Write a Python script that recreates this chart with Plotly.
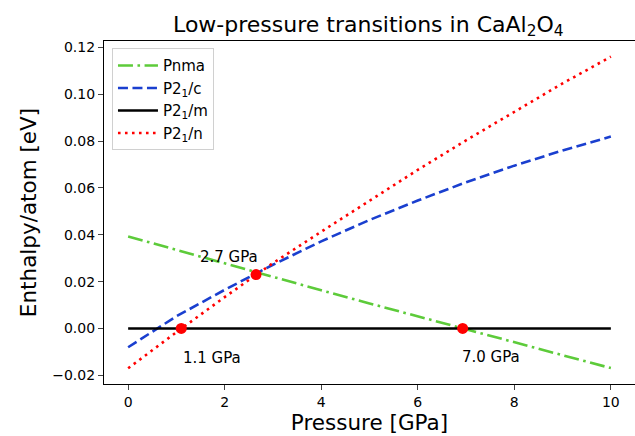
import plotly.graph_objects as go

pressure = [0, 1, 2, 3, 4, 5, 6, 7, 8, 9, 10]
pnma = [0.0393, 0.0335, 0.0277, 0.0220, 0.0163, 0.0107, 0.0051, -0.0004, -0.0059, -0.0114, -0.0169]
p21c = [-0.0080, 0.0052, 0.0165, 0.0272, 0.0372, 0.0463, 0.0546, 0.0624, 0.0695, 0.0760, 0.0819]
p21m = [0, 0, 0, 0, 0, 0, 0, 0, 0, 0, 0]
p21n = [-0.0170, -0.0016, 0.0134, 0.0279, 0.0413, 0.0545, 0.0677, 0.0803, 0.0926, 0.1046, 0.1160]

trans_p = [1.1, 2.65, 6.93]
trans_h = [0.0, 0.0230, 0.0]
trans_labels = ["1.1 GPa", "2.7 GPa", "7.0 GPa"]
label_x = [1.74, 2.08, 7.52]
label_y = [-0.0124, 0.0303, -0.0122]

font = "DejaVu Sans, Liberation Sans, sans-serif"

fig = go.Figure()
fig.add_trace(go.Scatter(x=pressure, y=pnma, mode="lines", name="Pnma",
                         line=dict(color="#5dcb3a", width=2.6, dash="15px,4.5px,2.6px,4.5px")))
fig.add_trace(go.Scatter(x=pressure, y=p21c, mode="lines", name="P2<sub>1</sub>/c",
                         line=dict(color="#1a3fcf", width=2.6, dash="10px,4.5px")))
fig.add_trace(go.Scatter(x=pressure, y=p21m, mode="lines", name="P2<sub>1</sub>/m",
                         line=dict(color="black", width=2.6)))
fig.add_trace(go.Scatter(x=pressure, y=p21n, mode="lines", name="P2<sub>1</sub>/n",
                         line=dict(color="red", width=2.6, dash="2.6px,4.4px")))
fig.add_trace(go.Scatter(x=trans_p, y=trans_h, mode="markers", showlegend=False,
                         marker=dict(color="red", size=11)))

for tx, ty, t in zip(label_x, label_y, trans_labels):
    fig.add_annotation(x=tx, y=ty, text=t, showarrow=False,
                       font=dict(size=15, color="black", family=font))

fig.update_layout(
    width=635, height=436,
    margin=dict(l=104, r=0, t=41, b=52, autoexpand=False),
    paper_bgcolor="white", plot_bgcolor="white",
    font=dict(family=font, color="black"),
    title=dict(text="Low-pressure transitions in CaAl<sub>2</sub>O<sub>4</sub>",
               x=0.58, xanchor="center", y=0.945, yanchor="middle",
               font=dict(size=22)),
    legend=dict(x=0.015, y=0.979, xanchor="left", yanchor="top",
                bgcolor="rgba(255,255,255,0.8)", bordercolor="#d0d0d0", borderwidth=1,
                font=dict(size=15), tracegroupgap=0, itemwidth=40),
)
fig.update_xaxes(range=[-0.5, 10.5], tickvals=[0, 2, 4, 6, 8, 10],
                 showgrid=False, zeroline=False, showline=True, mirror=True,
                 linecolor="black", linewidth=1.2, ticks="outside", ticklen=5,
                 tickwidth=1.1, tickfont=dict(size=14), automargin=False,
                 title=dict(text="Pressure [GPa]", font=dict(size=21.5), standoff=3))
fig.update_yaxes(range=[-0.0237, 0.1227],
                 tickvals=[-0.02, 0, 0.02, 0.04, 0.06, 0.08, 0.10, 0.12],
                 ticktext=["\u22120.02", "0.00", "0.02", "0.04", "0.06", "0.08", "0.10", "0.12"],
                 showgrid=False, zeroline=False, showline=True, mirror=True,
                 linecolor="black", linewidth=1.2, ticks="outside", ticklen=5,
                 tickwidth=1.1, tickfont=dict(size=14), automargin=False,
                 title=dict(text="Enthalpy/atom [eV]", font=dict(size=21.5), standoff=9))

fig.write_html("out.html", config={"displayModeBar": False},
               post_script="document.body.style.margin='0';document.body.style.padding='0';")
